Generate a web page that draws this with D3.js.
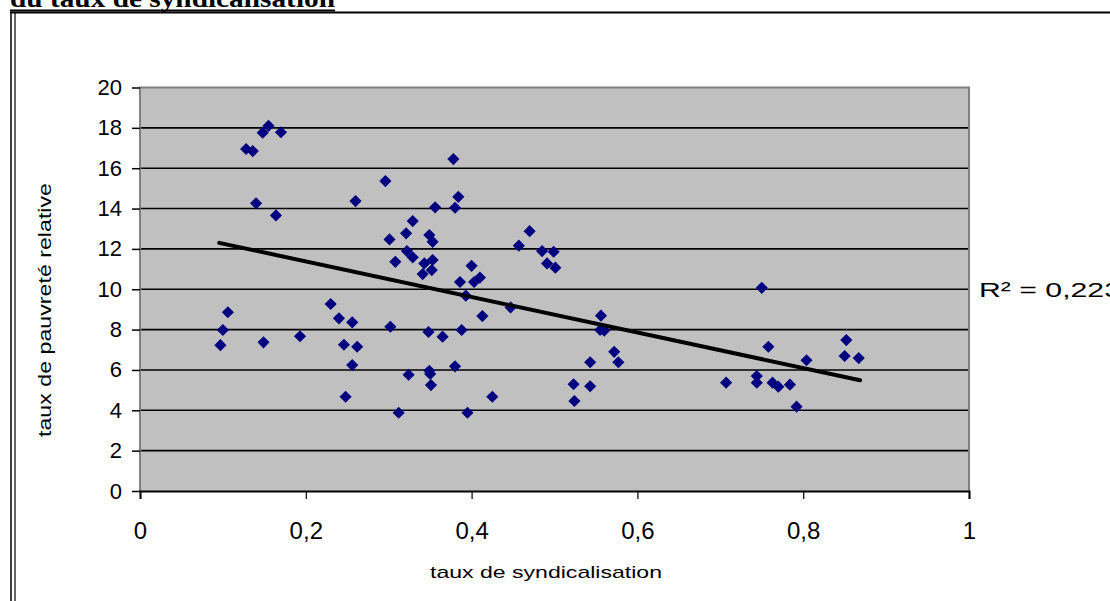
<!DOCTYPE html>
<html>
<head>
<meta charset="utf-8">
<script src="https://cdn.jsdelivr.net/npm/d3@7"></script>
<style>
  html, body { margin: 0; padding: 0; background: #fff; overflow: hidden; }
  svg { display: block; }
</style>
</head>
<body>
<svg id="chart" width="1110" height="601"></svg>
<script>
// Union membership rate (x) and relative poverty rate (y), one entry per observation
const unionRate = [
  0.097, 0.100, 0.106, 0.128, 0.136, 0.140, 0.148, 0.155, 0.170, 0.164,
  0.149, 0.193, 0.230, 0.240, 0.256, 0.246, 0.262, 0.256, 0.248, 0.260,
  0.296, 0.301, 0.308, 0.321, 0.329, 0.322, 0.329, 0.349, 0.353, 0.356,
  0.343, 0.353, 0.352, 0.341, 0.378, 0.384, 0.380, 0.386, 0.400, 0.403,
  0.410, 0.393, 0.413, 0.447, 0.457, 0.470, 0.485, 0.499, 0.491, 0.501,
  0.302, 0.348, 0.365, 0.388, 0.324, 0.349, 0.350, 0.351, 0.380, 0.312,
  0.395, 0.425, 0.523, 0.524, 0.543, 0.543, 0.556, 0.555, 0.560, 0.572,
  0.577, 0.707, 0.744, 0.744, 0.750, 0.758, 0.763, 0.770, 0.784, 0.792,
  0.804, 0.852, 0.850, 0.867
];
const povertyRate = [
  7.23, 7.98, 8.86, 16.95, 16.85, 14.26, 17.76, 18.10, 17.78, 13.66,
  7.37, 7.67, 9.27, 8.56, 8.36, 7.25, 7.15, 6.24, 4.67, 14.37,
  15.36, 12.47, 11.36, 12.77, 13.38, 11.89, 11.58, 12.69, 12.35, 14.06,
  11.28, 11.45, 10.95, 10.75, 16.45, 14.58, 14.04, 10.36, 11.16, 10.36,
  10.58, 9.68, 8.67, 9.10, 12.16, 12.88, 11.89, 11.86, 11.28, 11.07,
  8.14, 7.88, 7.65, 7.98, 5.76, 5.96, 5.80, 5.25, 6.18, 3.88,
  3.88, 4.67, 5.29, 4.46, 5.19, 6.38, 8.69, 7.98, 7.95, 6.90,
  6.38, 5.37, 5.70, 5.37, 10.07, 7.15, 5.37, 5.17, 5.27, 4.18,
  6.48, 7.48, 6.69, 6.59
];

// Linear trend line end points
const trendX = [0.0956, 0.8685];
const trendY = [12.30, 5.49];
const rSquaredLabel = "R\u00B2 = 0,223";

// Axis ticks and labels
const xTicks = [0, 0.2, 0.4, 0.6, 0.8, 1];
const xTickLabels = ["0", "0,2", "0,4", "0,6", "0,8", "1"];
const yTicks = [0, 2, 4, 6, 8, 10, 12, 14, 16, 18, 20];
const yTickLabels = ["0", "2", "4", "6", "8", "10", "12", "14", "16", "18", "20"];

const titleText = "du taux de syndicalisation";
const xTitle = "taux de syndicalisation";
const yTitle = "taux de pauvreté relative";

const svg = d3.select("#chart");
const sans = "'Liberation Sans', Arial, sans-serif";

const x = d3.scaleLinear().domain([0, 1]).range([140, 969]);
const y = d3.scaleLinear().domain([0, 20]).range([491, 87.5]);

// Heading (partly above the page edge) with its underline
svg.append("text")
  .attr("x", 10).attr("y", 7)
  .attr("font-family", "'Liberation Serif', 'Times New Roman', serif")
  .attr("font-weight", "bold")
  .attr("font-size", 25)
  .attr("textLength", 325)
  .attr("lengthAdjust", "spacingAndGlyphs")
  .text(titleText);
svg.append("rect").attr("x", 10).attr("y", 9.5).attr("width", 325).attr("height", 2).attr("fill", "#000");

// Double frame around the chart
svg.append("line").attr("x1", 10).attr("x2", 1110).attr("y1", 12.5).attr("y2", 12.5)
  .attr("stroke", "#000").attr("stroke-width", 2);
svg.append("line").attr("x1", 11).attr("x2", 11).attr("y1", 12).attr("y2", 601)
  .attr("stroke", "#000").attr("stroke-width", 1.5);
svg.append("line").attr("x1", 15).attr("x2", 15).attr("y1", 13).attr("y2", 601)
  .attr("stroke", "#000").attr("stroke-width", 1.2);

// Plot area
svg.append("rect")
  .attr("x", x(0)).attr("y", y(20))
  .attr("width", x(1) - x(0)).attr("height", y(0) - y(20))
  .attr("fill", "#c0c0c0");

// Horizontal gridlines
svg.append("g").selectAll("line")
  .data(yTicks.filter(d => d > 0 && d < 20))
  .join("line")
  .attr("x1", x(0)).attr("x2", x(1))
  .attr("y1", d => y(d)).attr("y2", d => y(d))
  .attr("stroke", "#000").attr("stroke-width", 1.6);

// Plot area border (top, right, left in grey)
svg.append("path")
  .attr("d", `M${x(0)},${y(0)}V${y(20)}H${x(1)}V${y(0)}`)
  .attr("fill", "none").attr("stroke", "#808080").attr("stroke-width", 2);

// Y axis
const yAxis = svg.append("g")
  .attr("transform", `translate(${x(0)},0)`)
  .call(d3.axisLeft(y).tickValues(yTicks).tickSize(8).tickPadding(10)
    .tickFormat((d, i) => yTickLabels[i]));
yAxis.select(".domain").remove();
yAxis.selectAll(".tick line").attr("stroke", "#000").attr("stroke-width", 1.5);
yAxis.selectAll(".tick text")
  .attr("font-family", sans).attr("font-size", 22).attr("fill", "#000");

// X axis
const xAxis = svg.append("g")
  .attr("transform", `translate(0,${y(0)})`)
  .call(d3.axisBottom(x).tickValues(xTicks).tickSize(8).tickPadding(23)
    .tickFormat((d, i) => xTickLabels[i]));
xAxis.select(".domain").attr("stroke", "#000").attr("stroke-width", 2);
xAxis.selectAll(".tick line").attr("stroke", "#000").attr("stroke-width", 1.2);
xAxis.selectAll(".tick text")
  .attr("font-family", sans).attr("font-size", 24).attr("fill", "#000");

// Axis titles
svg.append("text")
  .attr("x", 546).attr("y", 578)
  .attr("text-anchor", "middle")
  .attr("font-family", sans).attr("font-size", 17)
  .attr("textLength", 232).attr("lengthAdjust", "spacingAndGlyphs")
  .text(xTitle);
svg.append("text")
  .attr("transform", "translate(51,310) rotate(-90)")
  .attr("text-anchor", "middle")
  .attr("font-family", sans).attr("font-size", 19)
  .attr("textLength", 254).attr("lengthAdjust", "spacingAndGlyphs")
  .text(yTitle);

// Data points
const points = unionRate.map((u, i) => ({ u, p: povertyRate[i] }));
svg.append("g").selectAll("path")
  .data(points)
  .join("path")
  .attr("d", d3.symbol(d3.symbolSquare, 74))
  .attr("transform", d => `translate(${x(d.u)},${y(d.p)}) rotate(45)`)
  .attr("fill", "#000080");

// Trend line
const trend = trendX.map((t, i) => [t, trendY[i]]);
svg.append("path")
  .datum(trend)
  .attr("d", d3.line().x(d => x(d[0])).y(d => y(d[1])))
  .attr("fill", "none").attr("stroke", "#000").attr("stroke-width", 4)
  .attr("stroke-linecap", "round");

// Coefficient of determination
svg.append("text")
  .attr("x", 979).attr("y", 297)
  .attr("font-family", sans).attr("font-size", 21)
  .attr("textLength", 142).attr("lengthAdjust", "spacingAndGlyphs")
  .text(rSquaredLabel);
</script>
</body>
</html>
